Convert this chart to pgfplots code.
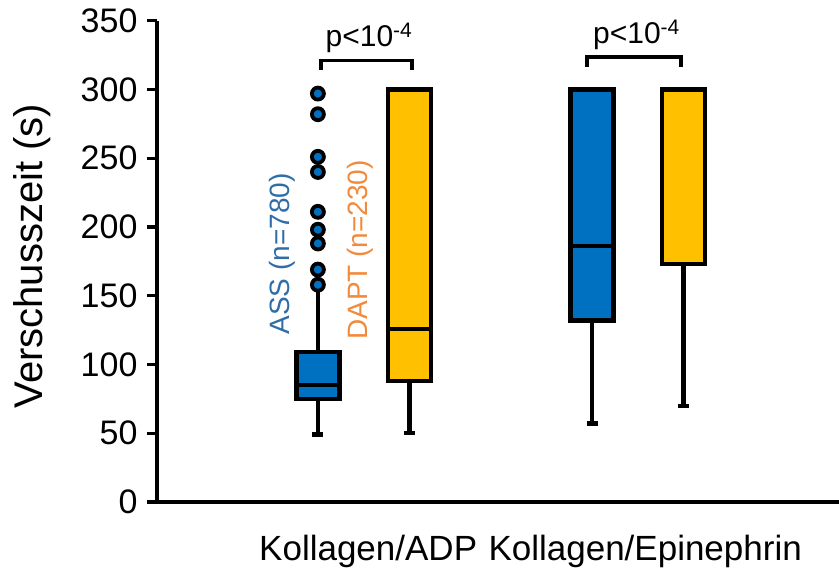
\documentclass[border=0pt]{standalone}
\usepackage{fontspec}
\setmainfont{Liberation Sans}
\usepackage{pgfplots}
\pgfplotsset{compat=1.18}
\usepgfplotslibrary{statistics}
\definecolor{bluebox}{HTML}{0070C0}
\definecolor{orangebox}{HTML}{FFC000}
\definecolor{asscol}{HTML}{2E6DA8}
\definecolor{daptcol}{HTML}{F28A3C}
\begin{document}
\begin{tikzpicture}
\begin{axis}[
 at={(0pt,0pt)}, anchor=south west,
 scale only axis, width=682pt, height=481.3pt,
 xmin=-0.76, xmax=6.70, ymin=0, ymax=350,
 axis x line=bottom, axis y line=left,
 axis line style={-, line width=3.3pt},
 ytick={0,50,...,350},
 xtick={1.55,4.58}, xticklabels={Kollagen/ADP, Kollagen/Epinephrin},
 xtick style={draw=none},
 ytick style={line width=3.3pt, black},
 tick align=outside, major tick length=10pt,
 yticklabel style={font=\fontsize{34}{38}\selectfont, xshift=-6pt},
 xticklabel style={font=\fontsize{35}{40}\selectfont, yshift=-20pt},
 /pgf/number format/assume math mode=true,
 ylabel={Verschusszeit (s)},
 every axis y label/.style={at={(rel axis cs:0,0.511)}, xshift=-125pt, rotate=90, anchor=center, font=\fontsize{40}{46}\selectfont},
 clip=false,
]
\addplot[boxplot/draw direction=y, boxplot prepared={draw position=1, lower whisker=49, lower quartile=75, median=85, upper quartile=109, upper whisker=158, box extend=0.47, whisker extend=0.12},
  draw=black, line width=4.4pt, fill=bluebox] coordinates {};
\addplot[boxplot/draw direction=y, boxplot prepared={draw position=2, lower whisker=50, lower quartile=88, median=126, upper quartile=300, upper whisker=300, box extend=0.47, whisker extend=0.12},
  draw=black, line width=4.4pt, fill=orangebox] coordinates {};
\addplot[boxplot/draw direction=y, boxplot prepared={draw position=4, lower whisker=57, lower quartile=132, median=186, upper quartile=300, upper whisker=300, box extend=0.47, whisker extend=0.12},
  draw=black, line width=4.4pt, fill=bluebox] coordinates {};
\addplot[boxplot/draw direction=y, boxplot prepared={draw position=5, lower whisker=70, lower quartile=173, median=300, upper quartile=300, upper whisker=300, box extend=0.47, whisker extend=0.12},
  draw=black, line width=4.4pt, fill=orangebox] coordinates {};
\addplot[only marks, mark=*, mark size=6pt, mark options={fill=bluebox, draw=black, line width=3.8pt}]
  coordinates {(1,297) (1,282) (1,251) (1,240) (1,211) (1,198) (1,188) (1,169) (1,158)};
\addplot[black, line width=3.8pt, mark=none, line join=miter] coordinates {(1.03,314) (1.03,321) (2.03,321) (2.03,314)};
\addplot[black, line width=3.8pt, mark=none, line join=miter] coordinates {(3.94,316.6) (3.94,323.4) (4.97,323.4) (4.97,316.6)};
\end{axis}
\node[anchor=base, font=\fontsize{30}{34}\selectfont] at (212pt,455.3pt) {p<10\textsuperscript{-4}};
\node[anchor=base, font=\fontsize{30}{34}\selectfont] at (479.5pt,458.7pt) {p<10\textsuperscript{-4}};
\node[rotate=90, text=asscol, font=\fontsize{28}{32}\selectfont] at (125pt,248pt) {ASS (n=780)};
\node[rotate=90, text=daptcol, font=\fontsize{28}{32}\selectfont] at (203pt,252pt) {DAPT (n=230)};
\pgfresetboundingbox
\useasboundingbox (-157pt,-67pt) rectangle (682pt,502pt);
\end{tikzpicture}
\end{document}
